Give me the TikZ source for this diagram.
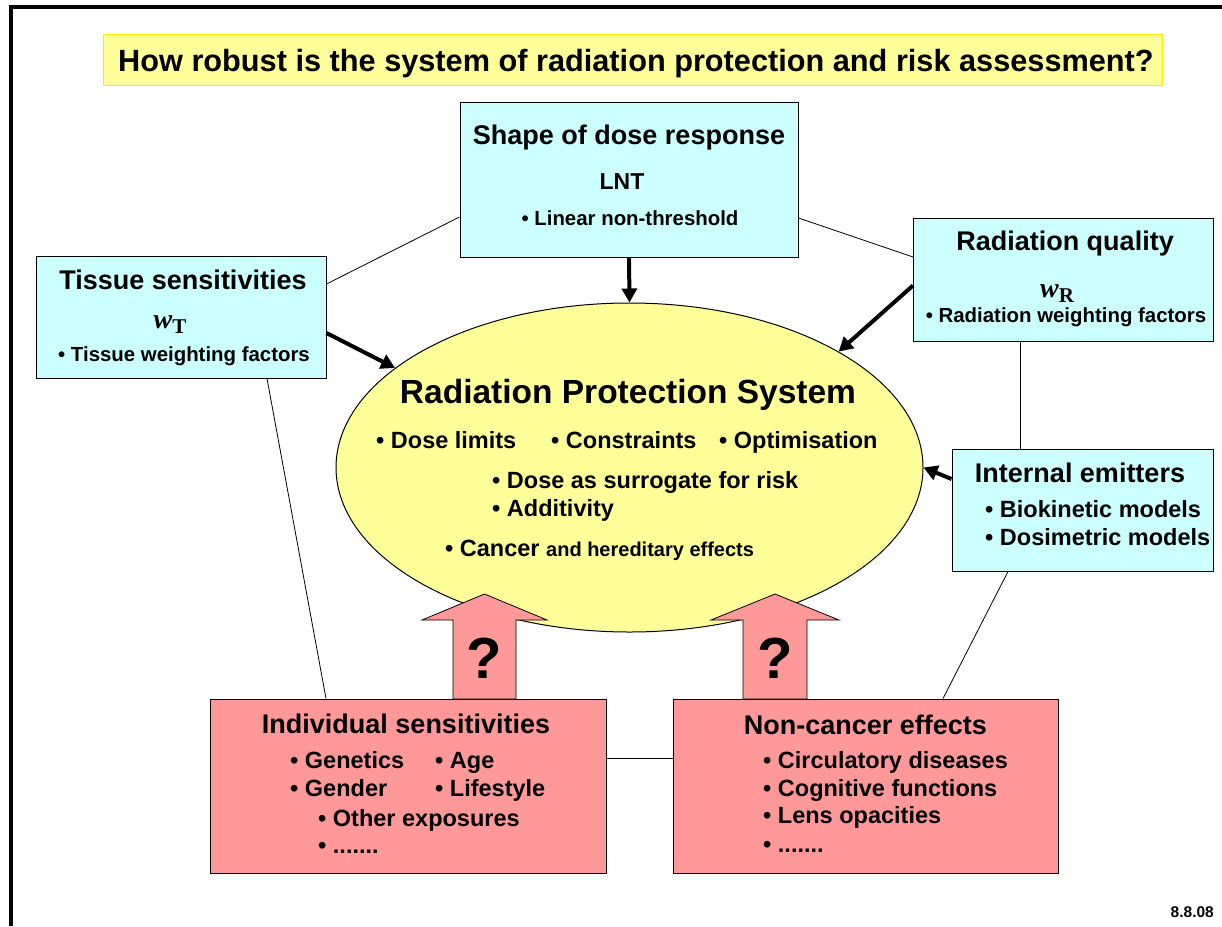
\documentclass[tikz,border=0pt]{standalone}
\usepackage{fontspec}
\setmainfont{Liberation Sans}
\newfontfamily\timesfont{Liberation Serif}
\usepackage{tikz}
\usetikzlibrary{shapes,arrows.meta,calc,positioning}
\definecolor{paleblue}{RGB}{204,255,255}
\definecolor{paleyellow}{RGB}{255,255,153}
\definecolor{salmon}{RGB}{255,153,153}
\definecolor{titleedge}{RGB}{250,235,0}
\newcommand{\fs}[1]{\fontsize{#1}{#1}\selectfont\bfseries}
\newcommand{\wsub}[1]{{\timesfont\fontsize{28}{28}\selectfont\bfseries\itshape w}{\timesfont\fontsize{21}{21}\selectfont\bfseries\raisebox{-5pt}{#1}}}

\begin{document}
\begin{tikzpicture}[x=1pt, y=-1pt,
    thin link/.style={line width=0.8pt},
    thick link/.style={line width=4pt, -{Triangle[length=14pt,width=15pt]}},
    block arrow/.style={draw, line width=0.8pt, fill=salmon}]
  \tikzstyle{box} = [draw, line width=1pt, inner sep=0pt]
  \tikzstyle{head} = [anchor=base, inner sep=0pt, font=\fs{27}]
  \tikzstyle{item} = [anchor=base, inner sep=0pt, font=\fs{20.4}]
  \tikzstyle{bigitem} = [anchor=base west, inner sep=0pt, font=\fs{23.5}]

  \useasboundingbox (0,0) rectangle (1222,926);
  \draw[line width=4pt] (10.5,926) -- (10.5,7) -- (1222,7);

  \node[box, draw=titleedge, fill=paleyellow, minimum width=1059pt, minimum height=51pt] (titlebox) at (633,59.5) {};
  \node[anchor=base west, inner sep=0pt, font=\fs{30.7}] (title) at (118,71) {How robust is the system of radiation protection and risk assessment?};

  \node[box, fill=paleblue, minimum width=338pt, minimum height=155pt] (shape) at (629,179.5) {};
  \node[box, fill=paleblue, minimum width=290pt, minimum height=122pt] (tissue) at (181,317) {};
  \node[box, fill=paleblue, minimum width=300pt, minimum height=123pt] (quality) at (1063.5,279.5) {};
  \node[box, fill=paleblue, minimum width=261pt, minimum height=122pt] (emit) at (1082.5,510) {};
  \node[box, fill=salmon, minimum width=396pt, minimum height=174pt] (indiv) at (408,786) {};
  \node[box, fill=salmon, minimum width=385pt, minimum height=174pt] (noncan) at (865.5,786) {};

  \draw[thin link] ($(tissue.east)+(0,-33)$) -- ($(shape.west)+(0,37.5)$);
  \draw[thin link] ($(shape.east)+(0,38.5)$) -- ($(quality.west)+(0,-22.5)$);
  \draw[thin link] ($(tissue.south)+(86,0)$) -- ($(indiv.north)+(-82,0)$);
  \draw[thin link] ($(quality.south)+(-43.5,0)$) -- ($(emit.north)+(-62.5,0)$);
  \draw[thin link] ($(emit.south)+(-74.5,0)$) -- ($(noncan.north)+(77.5,0)$);
  \draw[thin link] ($(indiv.east)+(0,-28)$) -- ($(noncan.west)+(0,-28)$);

  \node[ellipse, draw, line width=1pt, fill=paleyellow, minimum width=587pt, minimum height=329pt, inner sep=0pt] (rps) at (629.5,467.5) {};

  \draw[block arrow] (453,699) -- (453,620) -- (422,620) -- (484.5,594) -- (547,620) -- (516,620) -- (516,699) -- cycle;
  \draw[block arrow] (743,699) -- (743,620) -- (711,620) -- (775,594) -- (839,620) -- (807,620) -- (807,699) -- cycle;
  \node[font=\fs{58}, inner sep=0pt] (qleft) at (484.5,658) {?};
  \node[font=\fs{58}, inner sep=0pt] (qright) at (775,658) {?};

  \draw[thick link] (shape.south) -- (rps.north);
  \draw[thick link] ($(tissue.east)+(0,16)$) -- (rps.157);
  \draw[thick link] ($(quality.west)+(0,6)$) -- (rps.29);
  \draw[thick link] ($(emit.west)+(0,-31)$) -- (rps.east);

  \node[head] (shapehead) at (629,144.5) {Shape of dose response};
  \node[anchor=base, inner sep=0pt, font=\fs{23}] (lnt) at (622,189) {LNT};
  \node[item] (lntitem) at (630,225) {• Linear non-threshold};

  \node[head] (tissuehead) at (183,289) {Tissue sensitivities};
  \node[anchor=base, inner sep=0pt] (wt) at (170,328) {\wsub{T}};
  \node[item] (tissueitem) at (184,361) {• Tissue weighting factors};

  \node[head] (qualityhead) at (1065,250) {Radiation quality};
  \node[anchor=base, inner sep=0pt] (wr) at (1057,297) {\wsub{R}};
  \node[item] (qualityitem) at (1066,322) {• Radiation weighting factors};

  \node[head] (emithead) at (1080,482) {Internal emitters};
  \node[bigitem] (bio) at (985,517) {• Biokinetic models};
  \node[bigitem] (dosi) at (985,545) {• Dosimetric models};

  \node[anchor=base, inner sep=0pt, font=\fs{33.5}] (rpshead) at (628,403) {Radiation Protection System};
  \node[bigitem] (limits) at (376,448.5) {• Dose limits};
  \node[bigitem] (constr) at (551,448.5) {• Constraints};
  \node[bigitem] (optim) at (719,448.5) {• Optimisation};
  \node[bigitem] (surrogate) at (492,488.5) {• Dose as surrogate for risk};
  \node[bigitem] (additiv) at (492,516.5) {• Additivity};
  \node[bigitem] (cancer) at (445,556.5) {• Cancer {\fs{20}and hereditary effects}};

  \node[head] (indivhead) at (406,733) {Individual sensitivities};
  \node[bigitem] (genetics) at (290,768) {• Genetics};
  \node[bigitem] (age) at (435,768) {• Age};
  \node[bigitem] (gender) at (290,796) {• Gender};
  \node[bigitem] (life) at (435,796) {• Lifestyle};
  \node[bigitem] (other) at (318,826) {• Other exposures};
  \node[bigitem] (indivmore) at (318,853) {• .......};

  \node[head] (noncanhead) at (865.5,734) {Non-cancer effects};
  \node[bigitem] (circ) at (763,768) {• Circulatory diseases};
  \node[bigitem] (cogn) at (763,796) {• Cognitive functions};
  \node[bigitem] (lens) at (763,823) {• Lens opacities};
  \node[bigitem] (noncanmore) at (763,852) {• .......};

  \node[anchor=base east, inner sep=0pt, font=\fs{15.5}] (date) at (1214,917) {8.8.08};
\end{tikzpicture}
\end{document}
